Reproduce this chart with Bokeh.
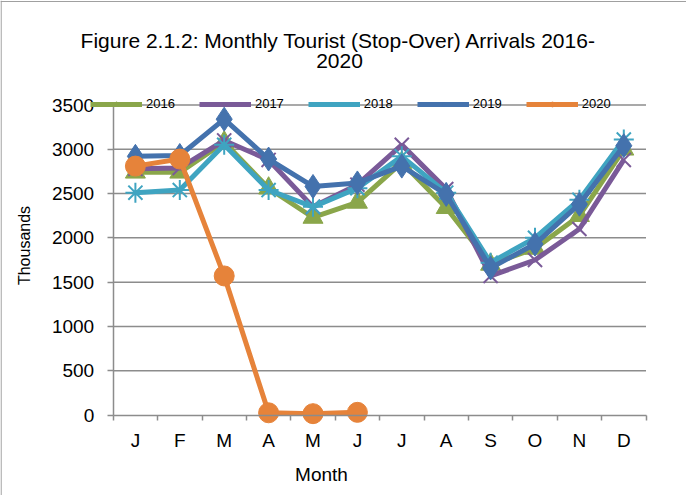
import math
from bokeh.plotting import figure
from bokeh.models import Legend, LegendItem, FixedTicker, Label, Span, ColumnDataSource
from bokeh.embed import file_html
from bokeh.resources import INLINE

months = ["J", "F", "M", "A", "M", "J", "J", "A", "S", "O", "N", "D"]
y_ticks = [0, 500, 1000, 1500, 2000, 2500, 3000, 3500]

s2016 = [2740, 2740, 3080, 2560, 2230, 2400, 2850, 2340, 1700, 1880, 2250, 3000]
s2017 = [2780, 2790, 3100, 2880, 2350, 2600, 3050, 2550, 1570, 1750, 2100, 2880]
s2018 = [2510, 2540, 3050, 2540, 2350, 2560, 2920, 2510, 1720, 2000, 2430, 3110]
s2019 = [2920, 2930, 3340, 2890, 2580, 2620, 2810, 2490, 1660, 1930, 2380, 3040]
s2020 = [2810, 2890, 1570, 25, 15, 30]

FONT = "Liberation Sans"
x_idx = list(range(1, len(months) + 1))
x_lo_c, x_hi_c = 0.5, len(months) + 0.5          # category band edges

# layout (pixels, canvas coordinates): the frame fills the whole canvas,
# the plot area is placed inside it
W, H = 686, 495
PL, PR = 112.7, 645.5     # plot area left / right
PT, PB = 104.5, 414.5     # y of the top tick line / y of zero
xs = (PR - PL) / (x_hi_c - x_lo_c)
ys = (PB - PT) / (y_ticks[-1] - y_ticks[0])
x_range = (x_lo_c - PL / xs, x_hi_c + (W - PR) / xs)
y_range = (y_ticks[0] - (H - PB) / ys, y_ticks[-1] + PT / ys)

p = figure(width=W, height=H, output_backend="svg", toolbar_location=None,
           title_location=None, x_range=x_range, y_range=y_range,
           min_border_left=0, min_border_right=0, min_border_top=0, min_border_bottom=0)
p.outline_line_color = None
p.background_fill_color = "white"
p.border_fill_color = "white"

# chart border (top and left edges only, as in the cropped original)
p.add_layout(Span(location=y_range[1] - 1.0 / ys, dimension="width",
                  line_color="#a0a0a0", line_width=1.2))
p.add_layout(Span(location=x_range[0] + 0.6 / xs, dimension="height",
                  line_color="#a0a0a0", line_width=1.2))

# grid lines limited to the plot area
p.xgrid.grid_line_color = None
p.ygrid.grid_line_color = None
gsrc = ColumnDataSource(dict(y=y_ticks[1:], x0=[x_lo_c] * (len(y_ticks) - 1),
                             x1=[x_hi_c] * (len(y_ticks) - 1)))
p.segment(x0="x0", x1="x1", y0="y", y1="y", source=gsrc, line_color="#8c8c8c", line_width=1.5)

# axes
xa = p.xaxis[0]
xa.fixed_location = y_ticks[0]
xa.bounds = (x_lo_c, x_hi_c)
xa.ticker = FixedTicker(ticks=x_idx, minor_ticks=[i + 0.5 for i in range(len(months) + 1)])
xa.major_label_overrides = {i: m for i, m in zip(x_idx, months)}
xa.major_tick_out = 0
xa.major_tick_in = 0
xa.minor_tick_out = 5
xa.minor_tick_in = 0
xa.minor_tick_line_color = "#8c8c8c"
xa.minor_tick_line_width = 1.5
xa.axis_line_color = "#8c8c8c"
xa.axis_line_width = 1.5
xa.major_label_text_font = FONT
xa.major_label_text_font_size = "19px"
xa.major_label_text_color = "black"
xa.major_label_standoff = 10

ya = p.yaxis[0]
ya.fixed_location = x_lo_c
ya.bounds = (y_ticks[0], y_ticks[-1])
ya.ticker = FixedTicker(ticks=y_ticks, minor_ticks=[])
ya.major_tick_out = 6
ya.major_tick_in = 0
ya.major_tick_line_color = "#8c8c8c"
ya.major_tick_line_width = 1.5
ya.axis_line_color = "#8c8c8c"
ya.axis_line_width = 1.5
ya.major_label_text_font = FONT
ya.major_label_text_font_size = "19px"
ya.major_label_text_color = "black"
ya.major_label_standoff = 13

series = [
    ("2016", s2016, "#8aa64a", "triangle", 20, 1),
    ("2017", s2017, "#7a5a98", "x", 20, 2),
    ("2018", s2018, "#3fa4c1", "asterisk", 20, 2),
    ("2019", s2019, "#4472ad", "diamond", 24, 1),
    ("2020", s2020, "#e6833a", "circle", 20, 1),
]

items = []
for name, vals, col, mk, sz, lw in series:
    src = ColumnDataSource(dict(x=x_idx[:len(vals)], y=vals))
    ln = p.line("x", "y", source=src, line_color=col, line_width=5)
    small = p.scatter("x", "y", source=src, marker=mk, size=7, fill_color=col,
                      line_color=col, line_width=1)
    p.scatter("x", "y", source=src, marker=mk, size=sz, fill_color=col,
              line_color=col, line_width=lw)
    items.append(LegendItem(label=name, renderers=[ln, small]))

legend = Legend(items=items, orientation="horizontal", location=(90, 384),
                glyph_width=52, glyph_height=12, label_standoff=4, spacing=24,
                padding=0, margin=0, background_fill_alpha=0, border_line_color=None,
                label_text_font=FONT, label_text_font_size="13px",
                label_text_color="black")
p.add_layout(legend, "center")

# texts (screen units: from the frame's left and bottom edges)
def txt(x, y, text, size, angle=0.0):
    p.add_layout(Label(x=x, y=y, x_units="screen", y_units="screen", text=text,
                       angle=angle, text_font=FONT, text_font_size=size,
                       text_align="center", text_baseline="middle", text_color="black"))

txt(338, 455, "Figure 2.1.2: Monthly Tourist (Stop-Over) Arrivals 2016-", "21px")
txt(339, 435, "2020", "21px")
txt(321, 21, "Month", "19px")
txt(24, 250, "Thousands", "16px", math.pi / 2)

open("out.html", "w").write(file_html(p, INLINE))
